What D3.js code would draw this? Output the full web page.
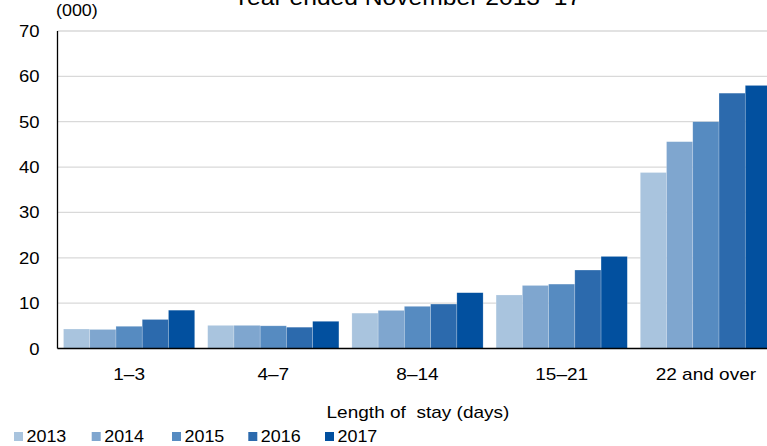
<!DOCTYPE html>
<html>
<head>
<meta charset="utf-8">
<script src="https://cdn.jsdelivr.net/npm/d3@7"></script>
<style>
  html, body { margin: 0; padding: 0; background: #fff; }
  svg { display: block; }
  text { font-family: "Liberation Sans", Arial, sans-serif; fill: #000; white-space: pre; }
</style>
</head>
<body>
<script>
const categories = ["1–3", "4–7", "8–14", "15–21", "22 and over"];
const years = ["2013", "2014", "2015", "2016", "2017"];
const values2013 = [4.3, 5.1, 7.8, 11.8, 38.8];
const values2014 = [4.2, 5.1, 8.4, 13.9, 45.6];
const values2015 = [4.9, 5.0, 9.3, 14.2, 50.0];
const values2016 = [6.4, 4.7, 9.8, 17.3, 56.3];
const values2017 = [8.45, 6.0, 12.3, 20.3, 58.0];
const yTicks = [0, 10, 20, 30, 40, 50, 60, 70];
const colors = ["#a9c4de", "#7fa6cf", "#568bc1", "#2c6aad", "#02509f"];
const title = "Year ended November 2013–17";
const unitLabel = "(000)";
const xTitle = "Length of  stay (days)";

const series = [values2013, values2014, values2015, values2016, values2017];

const W = 767, H = 446;
const svg = d3.select("body").append("svg").attr("width", W).attr("height", H);

const STRETCH = 1.12;
function label(g, x, y, txt, size, anchor) {
  return g.append("text")
    .attr("transform", `translate(${x},${y}) scale(${STRETCH},1)`)
    .attr("text-anchor", anchor || "start")
    .style("font-size", size + "px")
    .text(txt);
}

const x0 = d3.scaleBand().domain(categories).range([57, 778]).paddingInner(0.09).paddingOuter(0.045);
const x1 = d3.scaleBand().domain(years).range([0, x0.bandwidth()]);
const y = d3.scaleLinear().domain([0, 70]).range([348.5, 31]);

const plotLeft = 57.5, plotRight = W;

// gridlines
svg.append("g").selectAll("line").data(yTicks.filter(d => d > 0)).join("line")
  .attr("x1", plotLeft).attr("x2", plotRight)
  .attr("y1", d => y(d)).attr("y2", d => y(d))
  .attr("stroke", "#d9d9d9").attr("stroke-width", 1.3);

// bars
const groups = svg.append("g").selectAll("g").data(categories).join("g")
  .attr("transform", d => `translate(${x0(d)},0)`);
groups.selectAll("rect").data((c, ci) => years.map((yr, yi) => ({ yr, yi, v: series[yi][ci] }))).join("rect")
  .attr("x", d => x1(d.yr))
  .attr("width", x1.bandwidth())
  .attr("y", d => y(d.v))
  .attr("height", d => y(0) - y(d.v))
  .attr("fill", d => colors[d.yi])
  .attr("stroke", "#ffffff").attr("stroke-opacity", 0.35).attr("stroke-width", 0.6);

// axes lines
svg.append("line").attr("x1", plotLeft).attr("x2", plotLeft).attr("y1", y(70)).attr("y2", y(0))
  .attr("stroke", "#000").attr("stroke-width", 1.3);
svg.append("line").attr("x1", plotLeft).attr("x2", plotRight).attr("y1", y(0)).attr("y2", y(0))
  .attr("stroke", "#000").attr("stroke-width", 1.3);

// y tick labels
const yl = svg.append("g");
yTicks.forEach(t => label(yl, 39.5, y(t) + 6, String(t), 16.5, "end"));

// unit label
label(svg, 56, 15.5, unitLabel, 16, "start");

// title
label(svg, 407, 4.5, title, 22, "middle");

// category labels
const cl = svg.append("g");
categories.forEach(c => label(cl, x0(c) + x0.bandwidth() / 2, 379.5, c, 17, "middle"));

// x axis title
label(svg, 418, 417.5, xTitle, 17, "middle");

// legend
const legendX = [14, 91.7, 172, 248.3, 325];
const lg = svg.append("g");
years.forEach((yr, i) => {
  lg.append("rect").attr("x", legendX[i]).attr("y", 432).attr("width", 9).attr("height", 9).attr("fill", colors[i]);
  label(lg, legendX[i] + 12.5, 441.5, yr, 16, "start");
});
</script>
</body>
</html>
